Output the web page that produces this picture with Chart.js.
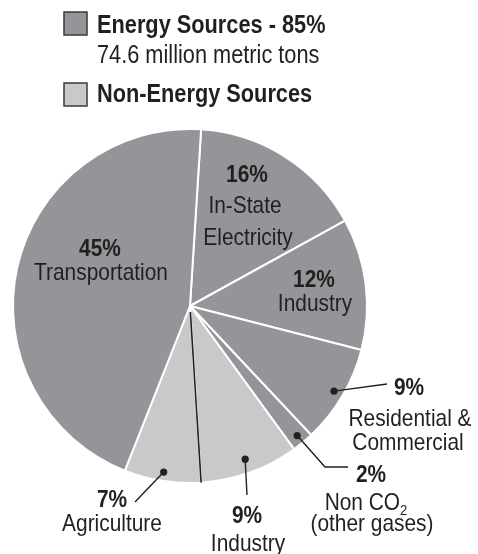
<!DOCTYPE html>
<html>
<head>
<meta charset="utf-8">
<script src="https://cdn.jsdelivr.net/npm/chart.js@4/dist/chart.umd.min.js"></script>
<style>
  html, body { margin: 0; padding: 0; background: #fff; }
  #chart { display: block; }
</style>
</head>
<body>
<canvas id="chart" width="478" height="554"></canvas>
<script>
// slice data, clockwise from just right of 12 o'clock
const sliceNames = ['In-State Electricity', 'Industry', 'Residential & Commercial', 'Non CO2 (other gases)', 'Industry', 'Agriculture', 'Transportation'];
const sliceValues = [16, 12, 9, 2, 9, 7, 45];
const sliceGroups = ['energy', 'energy', 'energy', 'energy', 'non', 'non', 'energy'];

const groupNames = ['Energy Sources - 85%', 'Non-Energy Sources'];
const groupNote = '74.6 million metric tons';

const DARK = '#939598';
const LIGHT = '#c8c9cb';
const INK = '#231f20';
const FONT = '"Liberation Sans", Arial, sans-serif';
const NARROW = 0.87; // the original uses a condensed face

// label layout: text lines relative to the pie centre; callouts get a dot on the slice
const labelLayout = [
    { lines: [['16%', true, 57, -124], ['In-State', false, 55, -93], ['Electricity', false, 58, -61]] },
    { lines: [['12%', true, 124, -19], ['Industry', false, 125, 5]] },
    { dot: 0.945, path: [[197, 78]], lines: [['9%', true, 219, 89], ['Residential &', false, 220, 120], ['Commercial', false, 218, 144]] },
    { dot: 0.95, path: [[135, 161], [158, 161]], lines: [['2%', true, 181, 176], ['Non CO', false, 176, 204, '2'], ['(other gases)', false, 182, 225]] },
    { dot: 0.92, path: [[57, 189]], lines: [['9%', true, 57, 217], ['Industry', false, 58, 245]] },
    { dot: 0.95, path: [[-55, 196]], lines: [['7%', true, -78, 201], ['Agriculture', false, -78, 225]] },
    { lines: [['45%', true, -90, -50], ['Transportation', false, -89, -26]] },
];

function groupColor(g) {
    return g === 'energy' ? DARK : LIGHT;
}

// draw text squeezed horizontally
function narrowText(ctx, txt, x, y) {
    ctx.save();
    ctx.translate(x, y);
    ctx.scale(NARROW, 1);
    ctx.fillText(txt, 0, 0);
    ctx.restore();
}

const annotations = {
    id: 'annotations',
    afterDatasetsDraw(chart) {
        const ctx = chart.ctx;
        const arcs = chart.getDatasetMeta(0).data;
        const cx = arcs[0].x, cy = arcs[0].y, r = arcs[0].outerRadius;

        // black divider between the two non-energy slices
        const a = arcs[5].startAngle;
        ctx.save();
        ctx.strokeStyle = INK;
        ctx.lineWidth = 1.6;
        ctx.beginPath();
        ctx.moveTo(cx + 6 * Math.cos(a), cy + 6 * Math.sin(a));
        ctx.lineTo(cx + r * Math.cos(a), cy + r * Math.sin(a));
        ctx.stroke();

        ctx.fillStyle = INK;
        ctx.textAlign = 'center';
        ctx.textBaseline = 'alphabetic';
        labelLayout.forEach((lab, i) => {
            if (lab.dot) {
                const arc = arcs[i];
                const mid = (arc.startAngle + arc.endAngle) / 2;
                const dx = cx + r * lab.dot * Math.cos(mid);
                const dy = cy + r * lab.dot * Math.sin(mid);
                ctx.beginPath();
                ctx.arc(dx, dy, 3.6, 0, Math.PI * 2);
                ctx.fill();
                ctx.lineWidth = 1.4;
                ctx.beginPath();
                ctx.moveTo(dx, dy);
                lab.path.forEach(p => ctx.lineTo(cx + p[0], cy + p[1]));
                ctx.stroke();
            }
            lab.lines.forEach(([txt, bold, ox, oy, sub]) => {
                ctx.font = (bold ? 'bold ' : '') + '24px ' + FONT;
                if (sub) {
                    const w1 = ctx.measureText(txt).width * NARROW;
                    ctx.font = '15px ' + FONT;
                    const w2 = ctx.measureText(sub).width * NARROW;
                    const x0 = cx + ox - (w1 + w2) / 2;
                    ctx.textAlign = 'left';
                    narrowText(ctx, sub, x0 + w1, cy + oy + 5);
                    ctx.font = '24px ' + FONT;
                    narrowText(ctx, txt, x0, cy + oy);
                    ctx.textAlign = 'center';
                } else {
                    narrowText(ctx, txt, cx + ox, cy + oy);
                }
            });
        });

        // legend
        const rows = [[groupNames[0], DARK, 12, 33], [groupNames[1], LIGHT, 83, 102]];
        rows.forEach(([name, col, top, base]) => {
            ctx.fillStyle = col;
            ctx.fillRect(64, top, 23, 23);
            ctx.strokeStyle = '#3a3a3a';
            ctx.lineWidth = 1.5;
            ctx.strokeRect(64, top, 23, 23);
            ctx.fillStyle = INK;
            ctx.textAlign = 'left';
            ctx.font = 'bold 25px ' + FONT;
            narrowText(ctx, name, 97, base);
        });
        ctx.font = '25px ' + FONT;
        narrowText(ctx, groupNote, 97, 63);
        ctx.restore();
    }
};

new Chart(document.getElementById('chart'), {
    type: 'pie',
    data: {
        labels: sliceNames,
        datasets: [{
            data: sliceValues,
            backgroundColor: sliceGroups.map(groupColor),
            borderColor: '#ffffff',
            borderWidth: 2,
            hoverOffset: 0,
        }],
    },
    options: {
        responsive: false,
        animation: false,
        devicePixelRatio: 1,
        rotation: 3.6,
        layout: { padding: { left: 12, right: 110, top: 128, bottom: 70 } },
        plugins: {
            legend: { display: false },
            tooltip: { enabled: false },
        },
    },
    plugins: [annotations],
});
</script>
</body>
</html>
